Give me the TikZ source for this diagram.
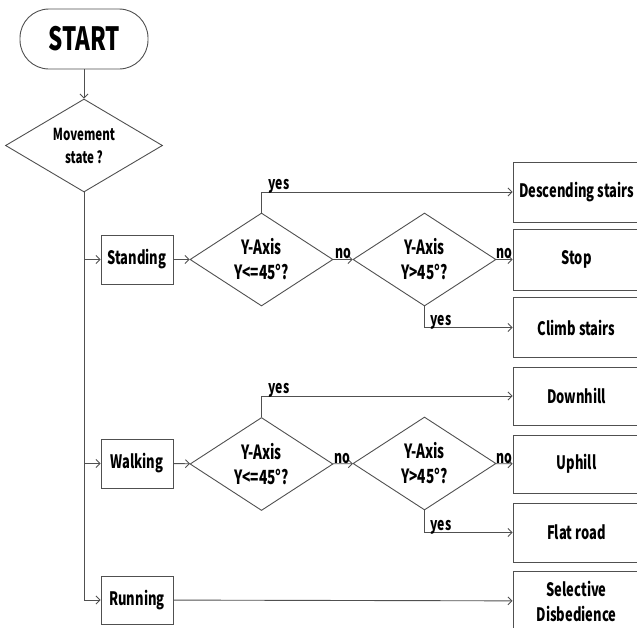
\documentclass[tikz,border=0pt]{standalone}
\usepackage{fontspec}
\setmainfont{Noto Sans CJK KR}[FakeStretch=0.7]
\usetikzlibrary{shapes.geometric,arrows.meta}
\definecolor{linec}{HTML}{505050}
\tikzset{
  conn/.style={draw=linec, line width=0.9pt, -{Straight Barb[length=4pt,width=8pt]}},
  boxnode/.style={draw=linec, line width=0.9pt, rectangle, inner sep=0pt, font=\bfseries\fontsize{18.5}{21}\selectfont, align=center},
  decnode/.style={draw=linec, line width=0.9pt, diamond, aspect=1.54, inner sep=0pt, minimum width=143pt, minimum height=93pt, font=\bfseries\fontsize{19.5}{25}\selectfont, align=center},
  lbl/.style={font=\bfseries\fontsize{17.5}{19}\selectfont, inner sep=0pt, anchor=base}
}
\begin{document}
\begin{tikzpicture}[x=1pt,y=-1pt]
\useasboundingbox (0,0) rectangle (637,627);
% start
\node[draw=linec, line width=0.9pt, rectangle, rounded corners=29pt, minimum width=128pt, minimum height=60pt, inner sep=0pt, font=\bfseries\fontsize{32}{38}\selectfont] (start) at (84,39) {START};
\node[decnode, minimum width=157pt, minimum height=93pt, aspect=1.69, font=\bfseries\fontsize{16.5}{23}\selectfont] (mv) at (84,145.5) {Movement\\state ?};
\draw[conn] (start) -- (mv);
% level 1 boxes
\node[boxnode, minimum width=72pt, minimum height=49pt] (stand) at (137,259.5) {Standing};
\node[boxnode, minimum width=72pt, minimum height=49pt] (walk) at (137,463.5) {Walking};
\node[boxnode, minimum width=72pt, minimum height=48pt] (run) at (137,600) {Running};
\draw[conn] (mv.south) |- (stand.west);
\draw[conn] (mv.south) |- (walk.west);
\draw[conn] (mv.south) |- (run.west);
% standing decisions
\node[decnode] (d1) at (261.5,259.5) {Y-Axis\\Y<=45°?};
\node[decnode] (d2) at (424.5,259.5) {Y-Axis\\Y>45°?};
\node[boxnode, minimum width=127pt, minimum height=60pt] (desc) at (576.5,192) {Descending stairs};
\node[boxnode, minimum width=127pt, minimum height=61pt] (stop) at (576.5,259.5) {Stop};
\node[boxnode, minimum width=127pt, minimum height=60pt] (climb) at (576.5,327.5) {Climb stairs};
\draw[conn] (stand) -- (d1);
\draw[conn] (d1.north) |- (desc.west);
\draw[conn] (d1) -- (d2);
\draw[conn] (d2) -- (stop);
\draw[conn] (d2.south) |- (climb.west);
\node[lbl] (y1) at (279,189) {yes};
\node[lbl] (n1) at (343,258.5) {no};
\node[lbl] (n2) at (504,258.5) {no};
\node[lbl] (y2) at (441,325.5) {yes};
% walking decisions
\node[decnode] (d3) at (261.5,464) {Y-Axis\\Y<=45°?};
\node[decnode] (d4) at (424.5,463.5) {Y-Axis\\Y>45°?};
\node[boxnode, minimum width=127pt, minimum height=58pt] (down) at (576.5,396) {Downhill};
\node[boxnode, minimum width=127pt, minimum height=58pt] (up) at (576.5,464) {Uphill};
\node[boxnode, minimum width=127pt, minimum height=59pt] (flat) at (576.5,532.5) {Flat road};
\draw[conn] (walk) -- (d3);
\draw[conn] (d3.north) |- (down.west);
\draw[conn] (d3) -- (d4);
\draw[conn] (d4) -- (up);
\draw[conn] (d4.south) |- (flat.west);
\node[lbl] (y3) at (279,393.5) {yes};
\node[lbl] (n3) at (342,463) {no};
\node[lbl] (n4) at (504,463) {no};
\node[lbl] (y4) at (441,530.5) {yes};
% running
\node[boxnode, minimum width=127pt, minimum height=60pt, font=\bfseries\fontsize{18.5}{25}\selectfont] (sel) at (576.5,601) {Selective\\Disbedience};
\draw[conn] (run) -- (sel);
\end{tikzpicture}
\end{document}
